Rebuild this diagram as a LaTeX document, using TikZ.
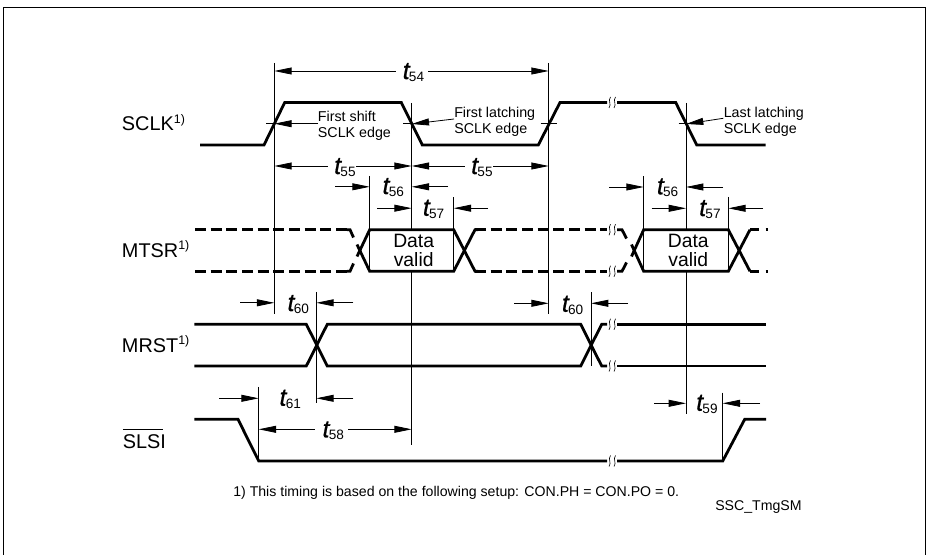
\documentclass[tikz,border=0pt]{standalone}
\usepackage{fontspec}
\setmainfont{Liberation Sans}
\newfontfamily\tfont[Scale=1,FakeBold=0.7]{Liberation Sans Italic}
\usetikzlibrary{arrows.meta}
\tikzset{
  sig/.style={line width=2.1pt,line join=miter,line cap=butt},
  dsig/.style={sig,dash pattern=on 8.2pt off 3.55pt},
  thin line/.style={line width=0.6pt},
  dim/.style={line width=0.6pt,-{Triangle[length=13pt,width=5.2pt]}},
  dimb/.style={line width=0.6pt,{Triangle[length=13pt,width=5.2pt]}-{Triangle[length=13pt,width=5.2pt]}},
  lab/.style={font=\fontsize{14.9pt}{17pt}\selectfont,anchor=base west,inner sep=0pt},
  ann/.style={font=\fontsize{10.7pt}{11.8pt}\selectfont,anchor=base west,inner sep=0pt,align=left},
  tm/.style={inner sep=0pt,anchor=base west},
  brk/.style={line width=0.45pt},
  dtxt/.style={inner sep=0pt,align=center,font=\fontsize{14.5pt}{14pt}\selectfont},
  note/.style={font=\fontsize{10.6pt}{12pt}\selectfont,anchor=base west,inner sep=0pt},
}
\newcommand{\tlab}[1]{{\fontsize{18.5pt}{20pt}\selectfont\tfont t}\kern-0.5pt\raisebox{-2pt}{\fontsize{10.2pt}{12pt}\selectfont #1}}
\newcommand{\supone}{\raisebox{5.8pt}{\fontsize{9.3pt}{10pt}\selectfont 1)}}
\begin{document}
\begin{tikzpicture}[x=0.75pt,y=-0.75pt]
\useasboundingbox (0,0) rectangle (927,555);
\fill[white] (0,0) rectangle (927,555);
% frame
\coordinate (fa) at (3.3,555);
\coordinate (fb) at (3.3,7.3);
\coordinate (fc) at (925.5,7.3);
\coordinate (fd) at (925.5,555);
\draw[line width=1pt] (fa) -- (fb) -- (fc) -- (fd);

% named vertical references
\coordinate (A) at (274.3,63);
\coordinate (Ab) at (274.3,314);
\coordinate (B) at (411.7,103);
\coordinate (Bb) at (411.7,445);
\coordinate (C) at (548.7,63);
\coordinate (Cb) at (548.7,314);
\coordinate (D) at (686,103);
\coordinate (Db) at (686,414);
\coordinate (E) at (369.7,176);
\coordinate (Eb) at (369.7,230);
\coordinate (F) at (453.7,197.5);
\coordinate (Fb) at (453.7,230);
\coordinate (G) at (643.7,176.5);
\coordinate (Gb) at (643.7,230);
\coordinate (H) at (728.3,197);
\coordinate (Hb) at (728.3,230);
\coordinate (I) at (316.3,292);
\coordinate (Ib) at (316.3,403);
\coordinate (J) at (591,292.5);
\coordinate (Jb) at (591,366);
\coordinate (K) at (258.7,387);
\coordinate (Kb) at (258.7,461);
\coordinate (L) at (722.7,392.7);
\coordinate (Lb) at (722.7,461);
\foreach \p/\q in {A/Ab,B/Bb,C/Cb,D/Db,E/Eb,F/Fb,G/Gb,H/Hb,I/Ib,J/Jb,K/Kb,L/Lb}
  \draw[thin line] (\p) -- (\q);

% SCLK
\draw[sig] (200,145) -- (264,145) -- (284.7,102.5) -- (401.3,102.5) -- (422.3,145) -- (538.3,145) -- (560,102.5) -- (607,102.5);
\draw[sig] (617,102.5) -- (675.7,102.5) -- (696.7,145) -- (765.7,145);
% ticks at 50% level
\draw[thin line] (266,123.7) -- (274.3,123.7);
\draw[thin line] (403,123.7) -- (411.7,123.7);
\draw[thin line] (540.7,123.7) -- (556.7,123.7);
\draw[thin line] (678.7,123.7) -- (686,123.7);

% MTSR data boxes
\draw[thin line,fill=white] (369.7,229.7) rectangle (453.7,271.3);
\draw[thin line,fill=white] (643.7,229.7) rectangle (728.3,271.3);
% MTSR dashed parts
\draw[dsig] (195,229.7) -- (350,229.7);
\draw[dsig] (195,271.3) -- (350,271.3);
\draw[dsig] (475,229.7) -- (607,229.7);
\draw[dsig] (475,271.3) -- (607,271.3);
\draw[sig] (347,229.7) -- (350,229.7) -- (353.5,237.5);
\draw[sig] (347,271.3) -- (350,271.3) -- (353.5,263.5);
\draw[sig] (617,229.7) -- (622,229.7) -- (626.5,238.5);
\draw[sig] (617,271.3) -- (622,271.3) -- (626.5,262.5);
\draw[sig] (750,229.7) -- (758.5,229.7);
\draw[sig] (750,271.3) -- (758.5,271.3);
\draw[sig] (765.5,229.7) -- (768,229.7);
\draw[sig] (765.5,271.3) -- (768,271.3);
% MTSR solid parts
\draw[sig] (357,244.5) -- (369.7,271.3) -- (453.7,271.3) -- (475,229.7) -- (478,229.7);
\draw[sig] (357,256.5) -- (369.7,229.7) -- (453.7,229.7) -- (475,271.3) -- (478,271.3);
\draw[sig] (631.5,244.5) -- (643.7,271.3) -- (728.3,271.3) -- (750,229.7);
\draw[sig] (631.5,256.5) -- (643.7,229.7) -- (728.3,229.7) -- (750,271.3);

% MRST
\draw[sig] (194.3,324.3) -- (306.3,324.3) -- (327.3,366) -- (580.7,366) -- (601.7,324.3) -- (607,324.3);
\draw[sig] (194.3,366) -- (306.3,366) -- (327.3,324.3) -- (580.7,324.3) -- (601.7,366) -- (607,366);
\draw[sig] (617,324.3) -- (766,324.3);
\draw[sig] (617,366) -- (766,366);

% SLSI
\draw[sig] (194.3,419.3) -- (238,419.3) -- (258.7,461) -- (607,461);
\draw[sig] (617,461) -- (722.7,461) -- (744.7,419.3) -- (766,419.3);

% line-break marks
\foreach \y in {102.5,229.7,271.3,324.3,366,461}{
  \draw[brk] (610.5,\y-5.5) .. controls (607.5,\y-1.5) and (612,\y+1.5) .. (609,\y+5.5);
  \draw[brk] (615.5,\y-5.5) .. controls (612.5,\y-1.5) and (617,\y+1.5) .. (614,\y+5.5);
}

% signal names
\node[lab] (n1) at (121.7,131) {SCLK\supone};
\node[lab] (n2) at (121.7,257.5) {MTSR\supone};
\node[lab] (n3) at (121.7,352.7) {MRST\supone};
\node[lab] (n4) at (122.5,448.3) {\makebox[0pt][l]{\rule[13.6pt]{30pt}{0.6pt}}SLSI};

% annotations
\node[ann] (a1) at (317.7,122) {First shift};
\node[ann] (a1b) at (317.7,137.7) {SCLK edge};
\node[ann] (a2) at (454,117.3) {First latching};
\node[ann] (a2b) at (454,133.3) {SCLK edge};
\node[ann] (a3) at (723.5,117.3) {Last latching};
\node[ann] (a3b) at (723.5,133.3) {SCLK edge};
\coordinate (p1) at (274.3,123.7);
\coordinate (p2) at (411.7,124);
\coordinate (p3) at (686,124);
\coordinate (q1) at (318,123.7);
\coordinate (q2) at (454,119);
\coordinate (q3) at (723.3,118.3);
\draw[dim] (q1) -- (p1);
\draw[dim] (q2) -- (p2);
\draw[dim] (q3) -- (p3);

% dimension arrows
\draw[dimb] (274.3,71) -- (548.7,71);
\fill[white] (395.7,66) rectangle (428.3,76);
\node[tm] (t54) at (402.5,79) {\tlab{54}};
\draw[dimb] (274.3,166) -- (411.7,166);
\fill[white] (328.3,161) rectangle (356,171);
\node[tm] (t55a) at (334,174) {\tlab{55}};
\draw[dimb] (411.7,166) -- (548.7,166);
\fill[white] (465,161) rectangle (493.3,171);
\node[tm] (t55b) at (471,174) {\tlab{55}};
\draw[dimb] (258.7,429.3) -- (411.7,429.3);
\fill[white] (315,424) rectangle (348.3,434);
\node[tm] (t58) at (322.3,437.3) {\tlab{58}};

\draw[dim] (335,186.8) -- (369.7,186.8);
\draw[dim] (448,186.8) -- (411.7,186.8);
\node[tm] (t56a) at (382.3,194) {\tlab{56}};
\draw[dim] (377,208.2) -- (411.7,208.2);
\draw[dim] (488,208.2) -- (453.7,208.2);
\node[tm] (t57a) at (422.7,215.7) {\tlab{57}};

\draw[dim] (609.3,187) -- (643.7,187);
\draw[dim] (723,187) -- (686,187);
\node[tm] (t56b) at (656.7,194.3) {\tlab{56}};
\draw[dim] (651.7,208.3) -- (686,208.3);
\draw[dim] (763,208.3) -- (728.3,208.3);
\node[tm] (t57b) at (699,216) {\tlab{57}};

\draw[dim] (240,302.8) -- (274.3,302.8);
\draw[dim] (353.3,302.8) -- (316.3,302.8);
\node[tm] (t60a) at (287.3,311) {\tlab{60}};
\draw[dim] (514,303.3) -- (548.7,303.3);
\draw[dim] (628,303.3) -- (591,303.3);
\node[tm] (t60b) at (561.7,311.7) {\tlab{60}};

\draw[dim] (219,398.3) -- (258.7,398.3);
\draw[dim] (353.3,398.3) -- (316.3,398.3);
\node[tm] (t61) at (279.3,405.7) {\tlab{61}};
\draw[dim] (654,403.3) -- (686,403.3);
\draw[dim] (760,403.3) -- (722.7,403.3);
\node[tm] (t59) at (696,410.7) {\tlab{59}};

% box text
\node[dtxt] (d1) at (413.7,250.5) {Data\\valid};
\node[dtxt] (d2) at (688.3,250.5) {Data\\valid};

% footnote
\node[note] (fn) at (233,496) {1) This timing is based on the following setup: CON.PH = CON.PO = 0.};
\node[note] (id) at (715,510) {SSC\_TmgSM};
\end{tikzpicture}
\end{document}
